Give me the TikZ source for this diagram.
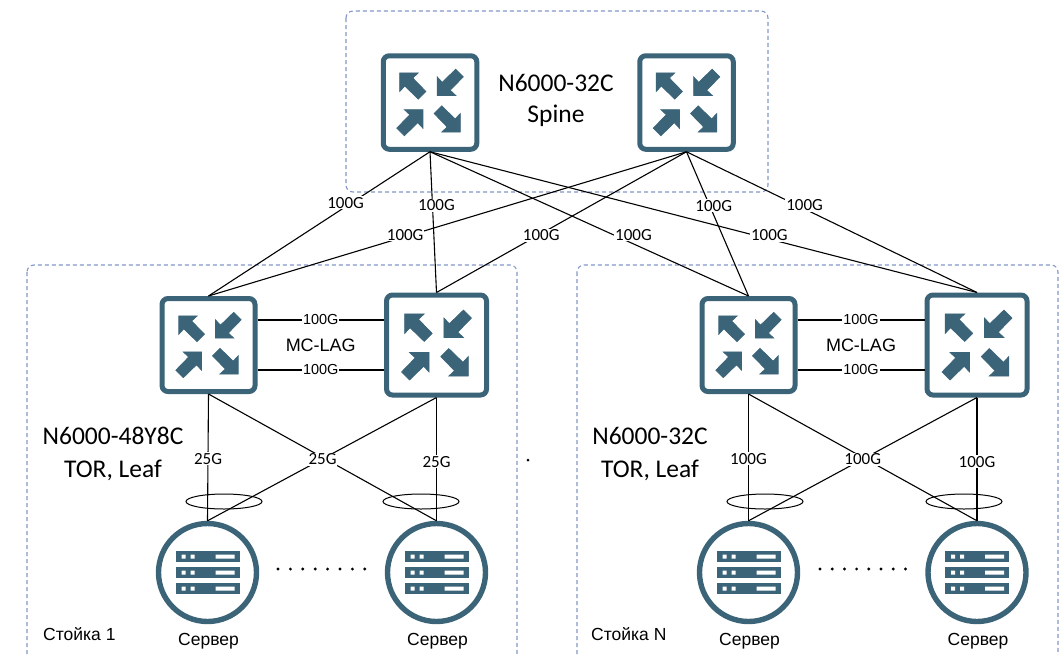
\documentclass[tikz,border=0pt]{standalone}
\usepackage{fontspec}
\setmainfont{Carlito}
\newfontfamily\arialf{Liberation Sans}
\usetikzlibrary{shapes.geometric,calc}
\definecolor{devc}{HTML}{3B6478}
\definecolor{zonec}{HTML}{8497C8}
\tikzset{
  zone/.style={draw=zonec,line width=1.1pt,dash pattern=on 4pt off 3pt,rounded corners=7pt},
  swbox/.style={draw=devc,line width=5pt,rounded corners=6pt,fill=white,inner sep=0pt,minimum width=#1,minimum height=#1},
  srv/.style={draw=devc,line width=5.4pt,circle,fill=white,inner sep=0pt,minimum size=98pt},
  lag/.style={draw=black,line width=1pt,ellipse,inner sep=0pt,minimum width=76pt,minimum height=15pt},
  lnk/.style={draw=black,line width=1.1pt},
  lbl/.style={font=\fontsize{17}{18}\selectfont,fill=white,inner sep=1pt},
  lbla/.style={font=\arialf\fontsize{14.5}{16}\selectfont,fill=white,inner sep=1pt},
  title/.style={font=\fontsize{25.5}{31}\selectfont,align=center,inner sep=0pt},
  txt/.style={font=\arialf\fontsize{#1}{20}\selectfont,inner sep=0pt},
  pics/arrows/.style={code={
    \foreach \sx/\sy/\dx/\dy in {1/1/-30.7/-30,1/-1/6.7/-6.7,-1/1/-6.7/6.7,-1/-1/30.7/30}
      \filldraw[devc,line width=.7pt,shift={(\dx,\dy)},xscale=\sx,yscale=\sy] (.4,.4)--(19,.4)--(13.5,5.5)--(26.6,19)--(19,26.6)--(5.5,13.5)--(.4,19)--cycle;
  }},
  pics/rack/.style={code={
    \foreach \dy in {-16,0,16}{
      \fill[devc] (-32,\dy-5.5) rectangle (32,\dy+5.5);
      \fill[white] (-26,\dy-2) rectangle (-22,\dy+2) (-17,\dy-2) rectangle (-13,\dy+2) (8,\dy-2) rectangle (27,\dy+2);
    }
  }},
}
\begin{document}
\begin{tikzpicture}[x=1pt,y=-1pt]
\useasboundingbox (0,0) rectangle (1063,654);
% zones
\draw[zone] (346,11) rectangle (768,192);
\draw[zone] (27,265) rectangle (517,662);
\draw[zone] (577,265) rectangle (1058,662);
% switches
\node[swbox=93.5pt] (sa) at (430,102.5) {};
\node[swbox=93.5pt] (sb) at (686.5,102.5) {};
\node[swbox=93pt] (la) at (208.5,345) {};
\node[swbox=100pt] (lb) at (436.5,345) {};
\node[swbox=93pt] (lc) at (748.5,345) {};
\node[swbox=100pt] (ld) at (977,345) {};
\foreach \n/\s in {sa/1,sb/1,la/.98,lb/1.05,lc/.98,ld/1.05}
  \pic[scale=\s] at (\n) {arrows};
% servers
\node[srv] (ra) at (207.5,572.5) {};
\node[srv] (rb) at (436.5,572.5) {};
\node[srv] (rc) at (748.5,572.5) {};
\node[srv] (rd) at (977,572.5) {};
\foreach \n in {ra,rb,rc,rd}
  \pic at (\n) {rack};
% uplinks
\foreach \a/\b/\p/\q in {sa/la/.354/-6,sa/lb/.379/4,sa/lc/.576/20,sa/ld/.593/15,sb/la/.576/-6,sb/lb/.593/3,sb/lc/.375/4,sb/ld/.379/8}
  \draw[lnk] (\a.south) -- (\b.north) node[lbl,pos=\p,xshift=\q] (u\a\b) {100G};
% MC-LAG
\foreach \a/\b in {la/lb,lc/ld}{
  \draw[lnk] ([yshift=25pt]\a.east) -- ([yshift=25pt]\b.west) node[lbla,midway] (m\a) {100G};
  \draw[lnk] ([yshift=-25pt]\a.east) -- ([yshift=-25pt]\b.west) node[lbla,midway] (n\a) {100G};
  \node[txt=18] (c\a) at ($(\a.east)!.5!(\b.west)$) {MC-LAG};
}
% ellipses under the links
\node[lag] (ea) at (224,501.5) {};
\node[lag] (eb) at (421,501.5) {};
\node[lag] (ec) at (765,501.5) {};
\node[lag] (ed) at (964,501.5) {};
% downlinks
\foreach \a/\b/\c/\d/\t in {la/lb/ra/rb/25G,lc/ld/rc/rd/100G}{
  \draw[lnk] (\b.south) -- (\c.north);
  \draw[lnk] (\a.south) -- (\c.north) node[lbl,pos=.51] (d\a) {\t};
  \draw[lnk] (\b.south) -- (\d.north) node[lbl,pos=.52] (d\b) {\t};
  \draw[lnk] (\a.south) -- (\d.north) node[lbl,midway,yshift=-2] (x\a) {\t};
}
% captions
\node[title] (ts) at (556,100.5) {N6000-32C\\Spine};
\node[title] (tl) at (113,454) {N6000-48Y8C\\[2pt]TOR, Leaf};
\node[title] (tr) at (650,454) {N6000-32C\\[2pt]TOR, Leaf};
\node[txt=17.5,anchor=west] (za) at (43,634) {Стойка 1};
\node[txt=17.5,anchor=west] (zb) at (591,634) {Стойка N};
\foreach \n in {ra,rb,rc,rd}
  \node[txt=17.5,xshift=1pt] (t\n) at ([yshift=-68.5pt]\n) {Сервер};
% dots
\foreach \i in {0,...,7}{
  \fill (278+12.4*\i,569) circle (1.6);
  \fill (820+12.2*\i,569) circle (1.6);
}
\fill (528,460) circle (1.5);
\end{tikzpicture}
\end{document}
